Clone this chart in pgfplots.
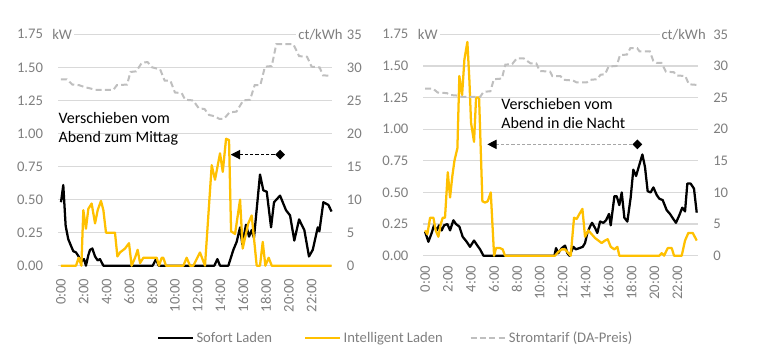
\documentclass[border=0pt]{standalone}
\usepackage{fontspec}
\setmainfont{Carlito}
\usepackage{pgfplots}
\pgfplotsset{compat=1.18}
\usetikzlibrary{arrows.meta,shapes.geometric}
\definecolor{ygold}{HTML}{FFC000}
\definecolor{tgray}{HTML}{7F7F7F}
\definecolor{pgray}{HTML}{BFBFBF}
\definecolor{ggrid}{HTML}{D9D9D9}
\definecolor{agray}{HTML}{A6A6A6}
\tikzset{
  sofort/.style={black, line width=1.7pt, line join=round},
  intel/.style={ygold, line width=1.7pt, line join=round},
  preis/.style={pgray, line width=1.5pt, dash pattern=on 4.5pt off 2.5pt},
  unit/.style={fill=white, inner sep=1.5pt, text=tgray, font=\fontsize{11}{13}\selectfont},
  anno/.style={anchor=base west, inner sep=0pt, font=\fontsize{12}{14}\selectfont}
}
\pgfplotsset{
  base/.style={scale only axis, clip=false,
    axis line style={draw=none}, major tick length=0pt, tick style={draw=none},
    /pgf/number format/assume math mode=true,
    ticklabel style={font=\fontsize{11}{13}\selectfont, text=tgray, inner sep=0pt},
    yticklabel shift=11pt},
  prim/.style={base, ymin=0, ymax=1.75,
    ytick={0,0.25,0.5,0.75,1,1.25,1.5,1.75},
    yticklabels={0.00,0.25,0.50,0.75,1.00,1.25,1.50,1.75},
    ymajorgrids, grid style={ggrid, line width=0.9pt},
    xtick={0,2,4,6,8,10,12,14,16,18,20,22},
    xticklabels={0:00,2:00,4:00,6:00,8:00,10:00,12:00,14:00,16:00,18:00,20:00,22:00},
    xticklabel style={rotate=90, anchor=east}},
  sec/.style={base, ymin=0, ymax=35, ytick={0,5,10,15,20,25,30,35},
    axis y line*=right, axis x line=none}
}
\begin{document}
\begin{tikzpicture}
\path[use as bounding box] (0,0) rectangle (569.25pt,270.75pt);
% ---------------- left chart ----------------
\begin{axis}[prim, at={(43.5pt,71.475pt)}, anchor=south west,
  width=205.5pt, height=173.55pt, xmin=-0.263, xmax=23.79,
  xticklabel shift=9.5pt,
  legend style={at={(axis description cs:0.36,-0.3125)}, anchor=west,
    draw=none, fill=none, inner sep=0pt,
    font=\fontsize{11}{13}\selectfont, text=tgray,
    /tikz/column 2/.style={column sep=22pt},
    /tikz/column 4/.style={column sep=18pt}},
  legend columns=3,
  legend image code/.code={\draw[#1] (0pt,0pt) -- (26pt,0pt);}]
\addplot[sofort] coordinates {(0,0.48)(0.20,0.61)(0.41,0.30)(0.64,0.20)(0.88,0.15)(1.08,0.11)(1.32,0.10)(1.55,0.07)(1.79,0.03)(2.02,0.05)(2.19,0.00)(2.40,0.08)(2.55,0.12)(2.75,0.13)(2.99,0.07)(3.22,0.04)(3.42,0.05)(3.72,0.00)(8.05,0.00)(8.34,0.05)(8.57,0.00)(13.46,0.00)(13.73,0.05)(13.96,0.00)(14.69,0.00)(15.13,0.12)(15.42,0.18)(15.72,0.29)(15.92,0.16)(16.24,0.31)(16.51,0.22)(16.74,0.27)(16.94,0.21)(17.47,0.69)(17.76,0.57)(18.06,0.56)(18.44,0.29)(18.70,0.48)(19.23,0.53)(19.75,0.42)(20.11,0.38)(20.48,0.19)(20.90,0.35)(21.36,0.27)(21.77,0.07)(22.10,0.12)(22.54,0.29)(22.68,0.26)(23.03,0.48)(23.47,0.46)(23.75,0.41)};
\addlegendentry{Sofort Laden}
\addplot[intel] coordinates {(0,0)(1.32,0)(1.55,0.06)(1.79,0)(1.96,0.42)(2.19,0.28)(2.40,0.43)(2.69,0.47)(2.99,0.32)(3.22,0.42)(3.51,0.49)(3.72,0.42)(3.95,0.25)(4.74,0.25)(4.95,0.07)(5.18,0.10)(5.62,0.13)(5.97,0.17)(6.20,0)(6.50,0.06)(6.73,0.12)(6.94,0.02)(7.23,0.06)(8.40,0.06)(8.60,0)(8.84,0.06)(8.98,0.06)(9.22,0)(10.74,0)(11.03,0.06)(11.33,0)(11.62,0)(12.20,0.10)(12.64,0)(13.23,0.76)(13.52,0.65)(13.96,0.85)(14.20,0.71)(14.49,0.96)(14.75,0.95)(14.93,0.26)(15.28,0.24)(15.72,0.50)(15.95,0.13)(16.44,0.32)(16.74,0.38)(17.18,0)(17.47,0)(17.71,0.18)(17.94,0)(18.23,0.06)(18.50,0)(23.75,0)};
\addlegendentry{Intelligent Laden}
\addlegendimage{preis}
\addlegendentry{Stromtarif (DA-Preis)}
\draw[black, line width=0.75pt, dash pattern=on 2.5pt off 1.5pt, -{Triangle[length=7pt,width=7pt]}] (axis cs:19.23,0.84) -- (axis cs:14.9,0.84);
\node[diamond, fill=black, inner sep=0pt, minimum size=7.5pt] at (axis cs:19.23,0.84) {};
\node[anno] at (axis cs:-0.24,1.072) {Verschieben vom};
\node[anno] at (axis cs:-0.24,0.93) {Abend zum Mittag};
\end{axis}
\begin{axis}[sec, at={(43.5pt,71.475pt)}, anchor=south west,
  width=205.5pt, height=173.55pt, xmin=-0.263, xmax=23.79]
\addplot[preis] coordinates {(0,28.2)(0.5,28.2)(1.0,27.4)(1.6,27.3)(2.1,27.0)(2.6,26.8)(3.0,26.6)(4.6,26.6)(4.9,27.3)(5.8,27.4)(6.1,29.3)(6.6,29.4)(7.1,30.7)(7.6,30.8)(8.0,30.0)(8.7,29.7)(9.1,28.0)(9.6,28.0)(10.0,26.2)(10.6,26.1)(10.9,25.1)(11.6,25.0)(12.1,23.8)(12.6,23.7)(13.0,22.8)(13.5,22.6)(13.9,22.2)(14.3,22.2)(14.8,23.2)(15.4,23.3)(16.0,25.0)(16.6,25.1)(17.0,27.3)(17.5,27.3)(17.9,30.1)(18.5,30.2)(18.9,33.5)(20.4,33.5)(20.9,31.7)(21.6,31.6)(22.0,30.1)(22.7,30.0)(23.0,28.8)(23.75,28.7)};
\node[unit, anchor=west] at (axis description cs:-0.029,1) {kW};
\node[unit, anchor=east] at (axis description cs:1.047,1) {ct/kWh};
\end{axis}
% ---------------- right chart ----------------
\begin{axis}[prim, at={(317.5pt,78.975pt)}, anchor=south west,
  width=206.25pt, height=166.05pt, xmin=-0.15, xmax=23.83,
  xticklabel shift=7.5pt]
\addplot[sofort] coordinates {(0,0.19)(0.29,0.11)(0.58,0.18)(0.78,0.24)(1.02,0.20)(1.22,0.24)(1.45,0.20)(1.66,0.24)(1.95,0.25)(2.18,0.20)(2.47,0.28)(2.70,0.25)(2.99,0.23)(3.28,0.15)(3.63,0.11)(3.92,0.07)(4.27,0.12)(4.56,0.08)(4.80,0.05)(5.09,0)(11.28,0)(11.42,0.06)(11.62,0.02)(11.92,0.06)(12.21,0.08)(12.41,0.02)(12.59,0)(12.93,0.07)(13.14,0.05)(13.46,0.06)(13.75,0.07)(13.95,0.10)(14.15,0.18)(14.38,0.23)(14.56,0.26)(14.82,0.22)(15.02,0.18)(15.26,0.27)(15.55,0.26)(15.78,0.28)(16.04,0.33)(16.19,0.24)(16.51,0.47)(16.71,0.47)(16.94,0.40)(17.15,0.50)(17.38,0.30)(17.64,0.27)(17.93,0.46)(18.16,0.68)(18.40,0.63)(18.69,0.72)(18.95,0.80)(19.18,0.70)(19.41,0.51)(19.67,0.50)(19.91,0.54)(20.20,0.48)(20.43,0.45)(20.72,0.44)(21.07,0.36)(21.36,0.33)(21.65,0.29)(21.88,0.26)(22.17,0.32)(22.43,0.38)(22.67,0.35)(22.87,0.57)(23.16,0.57)(23.45,0.53)(23.69,0.34)};
\addplot[intel] coordinates {(0,0.20)(0.2,0.17)(0.44,0.30)(0.73,0.30)(0.93,0.20)(1.16,0.15)(1.37,0.25)(1.54,0.30)(1.74,0.30)(1.98,0.66)(2.18,0.46)(2.38,0.63)(2.56,0.75)(2.82,0.85)(2.99,1.42)(3.23,1.27)(3.43,1.55)(3.69,1.69)(3.87,1.38)(4.01,1.05)(4.27,0.90)(4.45,1.25)(4.71,1.25)(5.00,0.43)(5.23,0.42)(5.46,0.43)(5.73,0.50)(6.02,0)(6.19,0.06)(6.54,0.06)(6.77,0.05)(6.97,0)(11.33,0)(11.62,0.03)(11.92,0.05)(12.21,0.05)(12.50,0.02)(12.70,0)(12.99,0.30)(13.22,0.29)(13.46,0.33)(13.72,0.37)(13.95,0.15)(14.24,0.20)(14.53,0.17)(14.82,0.14)(15.11,0.12)(15.40,0.10)(15.69,0.12)(15.93,0.13)(16.19,0.07)(16.51,0.05)(16.77,0.07)(16.94,0)(20.43,0)(20.63,0.02)(20.84,0)(21.16,0.06)(21.51,0.06)(21.71,0)(22.38,0)(22.67,0.12)(22.96,0.18)(23.34,0.18)(23.69,0.12)};
\draw[agray, line width=0.75pt, dash pattern=on 2.5pt off 1.5pt, -{Triangle[length=7pt,width=7pt,color=black]}] (axis cs:18.51,0.88) -- (axis cs:5.43,0.88);
\node[diamond, fill=black, inner sep=0pt, minimum size=7.5pt] at (axis cs:18.51,0.88) {};
\node[anno] at (axis cs:6.63,1.152) {Verschieben vom};
\node[anno] at (axis cs:6.63,1.007) {Abend in die Nacht};
\end{axis}
\begin{axis}[sec, at={(317.5pt,78.975pt)}, anchor=south west,
  width=206.25pt, height=166.05pt, xmin=-0.15, xmax=23.83]
\addplot[preis] coordinates {(0,26.4)(0.7,26.4)(1.1,25.8)(1.9,25.7)(2.2,25.4)(2.9,25.3)(3.2,25.1)(4.8,25.1)(5.1,25.9)(5.7,26.0)(6.0,27.9)(6.7,28.0)(7.0,30.2)(7.6,30.3)(8.0,31.2)(8.6,31.2)(9.2,30.4)(9.7,30.4)(10.0,29.2)(10.9,29.1)(11.1,28.4)(11.8,28.4)(12.1,27.8)(12.9,27.7)(13.2,27.4)(14.1,27.4)(14.4,27.8)(15.0,27.9)(15.3,28.6)(15.7,28.7)(16.0,29.9)(16.7,30.0)(17.0,31.7)(17.6,31.8)(17.9,32.8)(18.5,32.8)(18.7,32.3)(19.6,32.3)(19.9,30.8)(20.2,30.5)(20.6,30.5)(21.0,29.1)(21.7,29.0)(21.9,28.5)(22.7,28.4)(23.0,27.1)(23.69,27.0)};
\node[unit, anchor=west] at (axis description cs:-0.028,1) {kW};
\node[unit, anchor=east] at (axis description cs:1.035,1) {ct/kWh};
\end{axis}
\end{tikzpicture}
\end{document}
